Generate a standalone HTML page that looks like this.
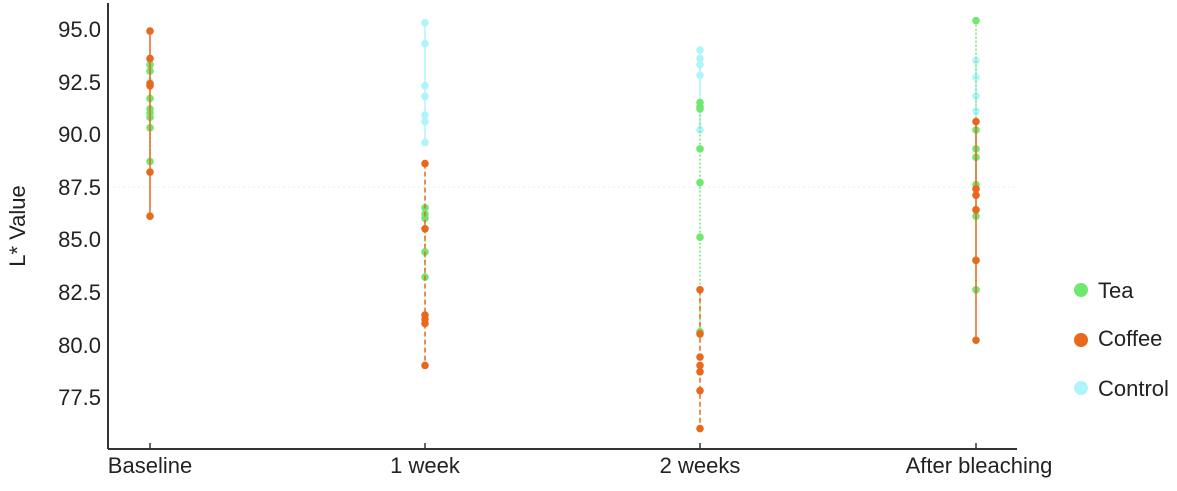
<!DOCTYPE html><html><head><style>body{margin:0;background:#fff}</style></head><body>
<svg width="1177" height="486" xmlns="http://www.w3.org/2000/svg" font-family="Liberation Sans, sans-serif" fill="#222">
<g stroke="#eee" stroke-dasharray="2,3"><line x1="108" y1="187" x2="1017" y2="187"/></g>
<line x1="108" y1="3" x2="108" y2="449" stroke="#333" stroke-width="2"/>
<line x1="108" y1="449" x2="1017" y2="449" stroke="#333" stroke-width="2"/>
<g font-size="22" text-anchor="end">
<text x="101" y="37">95.0</text><text x="101" y="90">92.5</text><text x="101" y="142">90.0</text><text x="101" y="195">87.5</text><text x="101" y="247">85.0</text><text x="101" y="300">82.5</text><text x="101" y="353">80.0</text><text x="101" y="405">77.5</text>
</g>
<text transform="translate(25,226) rotate(-90)" font-size="22" text-anchor="middle">L* Value</text>
<g font-size="22" text-anchor="middle"><text x="150" y="473">Baseline</text><text x="425" y="473">1 week</text><text x="700" y="473">2 weeks</text><text x="979" y="473">After bleaching</text></g>
<g stroke="#333" stroke-width="1.5"><line x1="150" y1="449" x2="150" y2="443"/><line x1="425" y1="449" x2="425" y2="443"/><line x1="700" y1="449" x2="700" y2="443"/><line x1="976" y1="449" x2="976" y2="443"/></g>
<g id="d"></g>
<g font-size="22"><circle cx="1081" cy="290" r="7" fill="#6ee86e"/><text x="1098" y="298">Tea</text>
<circle cx="1081" cy="340" r="7" fill="#e8691e"/><text x="1098" y="346">Coffee</text>
<circle cx="1081" cy="388" r="7" fill="#aef4fa"/><text x="1098" y="396">Control</text></g>
</svg>
<script>
const Y=v=>29+(95-v)*21.03,xs=[150,425,700,976];
const S={control:{c:"#aef4fa",d:[[93.5,92.5],[95.3,94.3,92.3,91.8,90.9,90.6,89.6],[94.0,93.6,93.3,92.8,90.2],[93.5,92.7,91.8,91.1,87.1]]},
tea:{c:"#6ee86e",d:[[93.3,93.0,91.7,91.2,91.0,90.8,90.3,88.7],[86.5,86.2,86.0,84.4,83.2],[91.5,91.3,91.2,89.3,87.7,85.1,80.6],[95.4,90.2,89.3,88.9,87.6,86.1,82.6]]},
coffee:{c:"#e8691e",d:[[94.9,93.6,92.4,92.3,88.2,86.1],[88.6,85.5,81.4,81.2,81.0,79.0],[82.6,80.5,79.4,79.0,78.7,77.8,76.0],[90.6,87.4,87.1,86.4,84.0,80.2]]}};
let h="";
for(const k of ["control","tea","coffee"]){const s=S[k];s.d.forEach((a,i)=>{const x=xs[i];let da=k=="coffee"&&i!=0&&i!=3?'stroke-dasharray="5,3"':(k=="tea"?'stroke-dasharray="2,2"':'');h+=`<line x1="${x}" x2="${x}" y1="${Y(Math.max(...a))}" y2="${Y(Math.min(...a))}" stroke="${s.c}" stroke-width="1.5" ${da}/>`;a.forEach(v=>h+=`<circle cx="${x}" cy="${Y(v)}" r="3.8" fill="${s.c}"/>`)})}
document.getElementById("d").innerHTML=h;
</script>
</body></html>
